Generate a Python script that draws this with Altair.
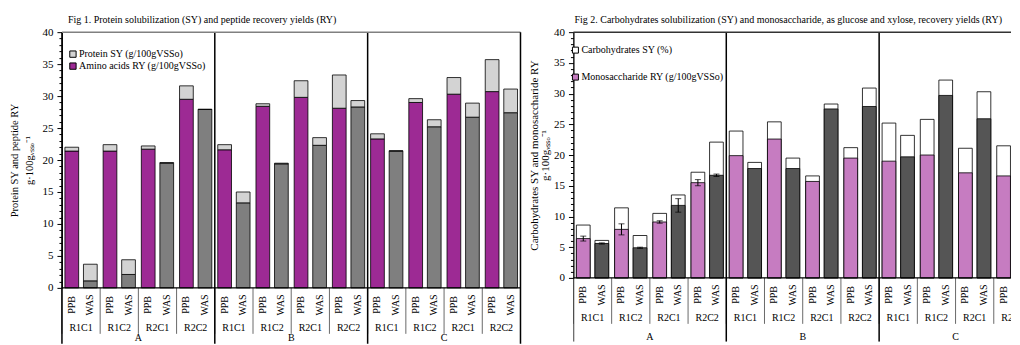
import altair as alt
import pandas as pd

groups = ["A", "B", "C"]
subgroups = ["R1C1", "R1C2", "R2C1", "R2C2"]
types = ["PPB", "WAS"]

# Fig 1 values (order: group -> subgroup -> PPB, WAS)
amino_ry = [21.4, 1.1, 21.4, 2.1, 21.7, 19.5, 29.5, 27.9,
            21.6, 13.3, 28.4, 19.4, 29.8, 22.3, 28.1, 28.3,
            23.3, 21.4, 29.0, 25.2, 30.3, 26.7, 30.7, 27.4]
protein_sy = [22.0, 3.7, 22.4, 4.4, 22.2, 19.6, 31.6, 27.95,
              22.4, 15.0, 28.8, 19.5, 32.4, 23.5, 33.3, 29.3,
              24.1, 21.45, 29.6, 26.3, 32.9, 28.9, 35.7, 31.1]

# Fig 2 values
mono_ry = [6.4, 5.6, 7.9, 4.9, 9.1, 11.8, 15.5, 16.7,
           19.9, 17.8, 22.6, 17.8, 15.7, 27.5, 19.5, 27.9,
           19.0, 19.7, 20.0, 29.7, 17.1, 25.9, 16.6, 26.2]
carb_sy = [8.6, 6.1, 11.4, 6.9, 10.5, 13.5, 17.2, 22.1,
           23.9, 18.8, 25.4, 19.5, 16.6, 28.3, 21.2, 30.9,
           25.2, 23.2, 25.8, 32.2, 21.1, 30.3, 21.5, 29.5]
mono_err = [0.4, 0.1, 0.9, 0.1, 0.2, 1.1, 0.5, 0.2,
            None, None, None, None, None, None, None, None,
            None, None, None, None, None, None, None, None]

PROT = "Protein SY (g/100gVSSo)"
AMINO = "Amino acids RY (g/100gVSSo)"
CARB = "Carbohydrates SY (%)"
MONO = "Monosaccharide RY (g/100gVSSo)"

FONT = "Liberation Serif"
keys = [f"{g}|{s}" for g in groups for s in subgroups]

rows = []
i = 0
for g in groups:
    for s in subgroups:
        for t in types:
            rows.append({"group": g, "sub": s, "type": t, "key": f"{g}|{s}", "i": i})
            i += 1
base = pd.DataFrame(rows)

sub_df = pd.DataFrame({"key": keys, "sub": [k.split("|")[1] for k in keys]})
grp_df = pd.DataFrame({"key": [f"{g}|R1C2" for g in groups], "group": groups})
grpsep_df = pd.DataFrame({"key": [f"{g}|R1C1" for g in groups]})
last_df = pd.DataFrame({"key": [keys[-1]]})
one_df = pd.DataFrame({"a": [0]})

xoff = alt.XOffset("type:N", scale=alt.Scale(domain=types, paddingInner=0.26, paddingOuter=0.16))


def make_X(xscale):
    def X(**kw):
        return alt.X("key:N", scale=xscale, axis=None, **kw)
    return X


def yaxis(title, lh, tp, tfs):
    return alt.Axis(
        title=title, values=list(range(0, 41)),
        labelExpr="datum.value % 5 == 0 ? datum.label : ''",
        tickSize={"condition": {"test": "datum.value % 5 == 0", "value": 5}, "value": 3},
        labelPadding=4, labelOverlap=False, titleLineHeight=lh, titlePadding=tp,
        titleFontSize=tfs, domainColor="black", tickColor="black")


def decorations(X, H, W, top_color, right_border, clip, grp_y, sep_len):
    type_lbl = alt.Chart(base).mark_text(angle=270, font=FONT, fontSize=10, color="black", clip=clip).encode(
        x=X(), xOffset=xoff, y=alt.value(H + 17), text="type:N")
    sub_lbl = alt.Chart(sub_df).mark_text(font=FONT, fontSize=10, color="black", clip=clip).encode(
        x=X(), y=alt.value(H + 40), text="sub:N")
    grp_lbl = alt.Chart(grp_df).mark_text(font=FONT, fontSize=10, color="black", clip=clip).encode(
        x=X(bandPosition=1), y=alt.value(H + grp_y), text="group:N")
    sub_sep = alt.Chart(sub_df).mark_rule(color="#444", strokeWidth=0.8, clip=clip).encode(
        x=X(bandPosition=0), y=alt.value(H), y2=alt.value(H + 46))
    grp_sep = alt.Chart(grpsep_df).mark_rule(color="black", strokeWidth=1.5, clip=clip).encode(
        x=X(bandPosition=0), y=alt.value(0), y2=alt.value(H + sep_len))
    top = alt.Chart(one_df).mark_rule(color=top_color, strokeWidth=1.5).encode(
        x=alt.value(0), x2=alt.value(W), y=alt.value(0))
    bottom = alt.Chart(one_df).mark_rule(color="black", strokeWidth=1.2).encode(
        x=alt.value(0), x2=alt.value(W), y=alt.value(H))
    layers = [type_lbl, sub_lbl, grp_lbl, sub_sep, grp_sep, top, bottom]
    if right_border:
        layers.append(alt.Chart(last_df).mark_rule(color="black", strokeWidth=1.5).encode(
            x=X(bandPosition=1), y=alt.value(0), y2=alt.value(H + sep_len)))
    return layers


# ---------- Fig 1 ----------
W1, H1 = 459, 256
X1 = make_X(alt.Scale(domain=keys, paddingInner=0, paddingOuter=0))
f1 = []
for r in rows:
    k = r["i"]
    f1.append({**r, "y0": 0, "y1": amino_ry[k], "series": AMINO if r["type"] == "PPB" else "WAS amino"})
    f1.append({**r, "y0": amino_ry[k], "y1": protein_sy[k], "series": PROT})
f1 = pd.DataFrame(f1)

bars1 = alt.Chart(f1).mark_bar(stroke="black", strokeWidth=0.8).encode(
    x=X1(), xOffset=xoff,
    y=alt.Y("y1:Q", scale=alt.Scale(domain=[0, 40], nice=False),
            axis=yaxis(["Protein SY and peptide RY", "g·100gᵥₛₛₒ⁻¹"], 15, 7, 10.5)),
    y2="y0:Q",
    fill=alt.Fill("series:N",
                  scale=alt.Scale(domain=[PROT, AMINO, "WAS amino"], range=["#d3d3d3", "#9d2a94", "#7f7f7f"]),
                  legend=alt.Legend(values=[PROT, AMINO], orient="none", legendX=6, legendY=17, title=None,
                                    symbolType="square", symbolSize=40, symbolStrokeColor="black",
                                    symbolStrokeWidth=1, labelFontSize=10, labelOffset=1, rowPadding=0)),
)

fig1 = alt.layer(bars1, *decorations(X1, H1, W1, "#808080", True, False, 50, 56)).properties(
    width=W1, height=H1,
    title=alt.TitleParams("Fig 1. Protein solubilization (SY) and peptide recovery yields (RY)",
                          anchor="start", frame="group", dx=6, offset=1))

# ---------- Fig 2 ----------
W2, H2 = 438, 246
X2 = make_X(alt.Scale(domain=keys, paddingInner=0, paddingOuter=0, range=[0, 459]))
f2 = []
for r in rows:
    k = r["i"]
    f2.append({**r, "y0": 0, "y1": carb_sy[k], "series": CARB, "ord": 0})
    f2.append({**r, "y0": 0, "y1": mono_ry[k], "series": MONO if r["type"] == "PPB" else "WAS mono", "ord": 1})
f2 = pd.DataFrame(f2)
err = pd.DataFrame([{**r, "lo": mono_ry[r["i"]] - mono_err[r["i"]], "hi": mono_ry[r["i"]] + mono_err[r["i"]]}
                    for r in rows if mono_err[r["i"]] is not None])

yscale2 = alt.Scale(domain=[0, 40], nice=False, range=[H2, 0])
yax2 = yaxis(["Carbohydrates SY and monosaccharide RY", "g·100gᵥₛₛₒ⁻¹"], 11, 3, 11)
bars2 = alt.Chart(f2).mark_bar(stroke="black", strokeWidth=0.8, clip=True).encode(
    x=X2(), xOffset=xoff,
    y=alt.Y("y1:Q", scale=yscale2, axis=yax2),
    y2="y0:Q",
    order=alt.Order("ord:Q"),
    fill=alt.Fill("series:N",
                  scale=alt.Scale(domain=[CARB, MONO, "WAS mono"], range=["white", "#c67cc1", "#555555"]),
                  legend=alt.Legend(values=[CARB, MONO], orient="none", legendX=-3, legendY=13, title=None,
                                    symbolType="square", symbolSize=36, symbolStrokeColor="black",
                                    symbolStrokeWidth=1, labelFontSize=10, labelOffset=1, rowPadding=17)),
)
eb = alt.Chart(err).mark_rule(color="black", strokeWidth=1).encode(
    x=X2(), xOffset=xoff, y=alt.Y("lo:Q", scale=yscale2, axis=yax2), y2="hi:Q")
cap_lo = alt.Chart(err).mark_tick(color="black", size=6, thickness=1, orient="horizontal").encode(
    x=X2(), xOffset=xoff, y=alt.Y("lo:Q", scale=yscale2, axis=yax2))
cap_hi = alt.Chart(err).mark_tick(color="black", size=6, thickness=1, orient="horizontal").encode(
    x=X2(), xOffset=xoff, y=alt.Y("hi:Q", scale=yscale2, axis=yax2))

fig2 = alt.layer(bars2, eb, cap_lo, cap_hi, *decorations(X2, H2, W2, "#333333", False, True, 59, 64)).properties(
    width=W2, height=H2 + 64,
    title=alt.TitleParams("Fig 2. Carbohydrates solubilization (SY) and monosaccharide, as glucose and xylose, recovery yields (RY)",
                          anchor="start", frame="group", dx=1, offset=1))

chart = alt.hconcat(fig1, fig2, spacing=7).resolve_scale(
    x="independent", y="independent", fill="independent"
).properties(
    padding={"left": 2, "top": 7, "right": 0, "bottom": 0}
).configure_view(stroke=None).configure_axis(
    labelFont=FONT, titleFont=FONT, labelFontSize=11, titleFontWeight="normal",
    labelColor="black", titleColor="black", grid=False
).configure_title(
    font=FONT, fontSize=10, fontWeight="normal", color="black"
).configure_legend(labelFont=FONT, labelColor="black")

chart.save("out.html", embed_options={"renderer": "svg", "actions": False})
